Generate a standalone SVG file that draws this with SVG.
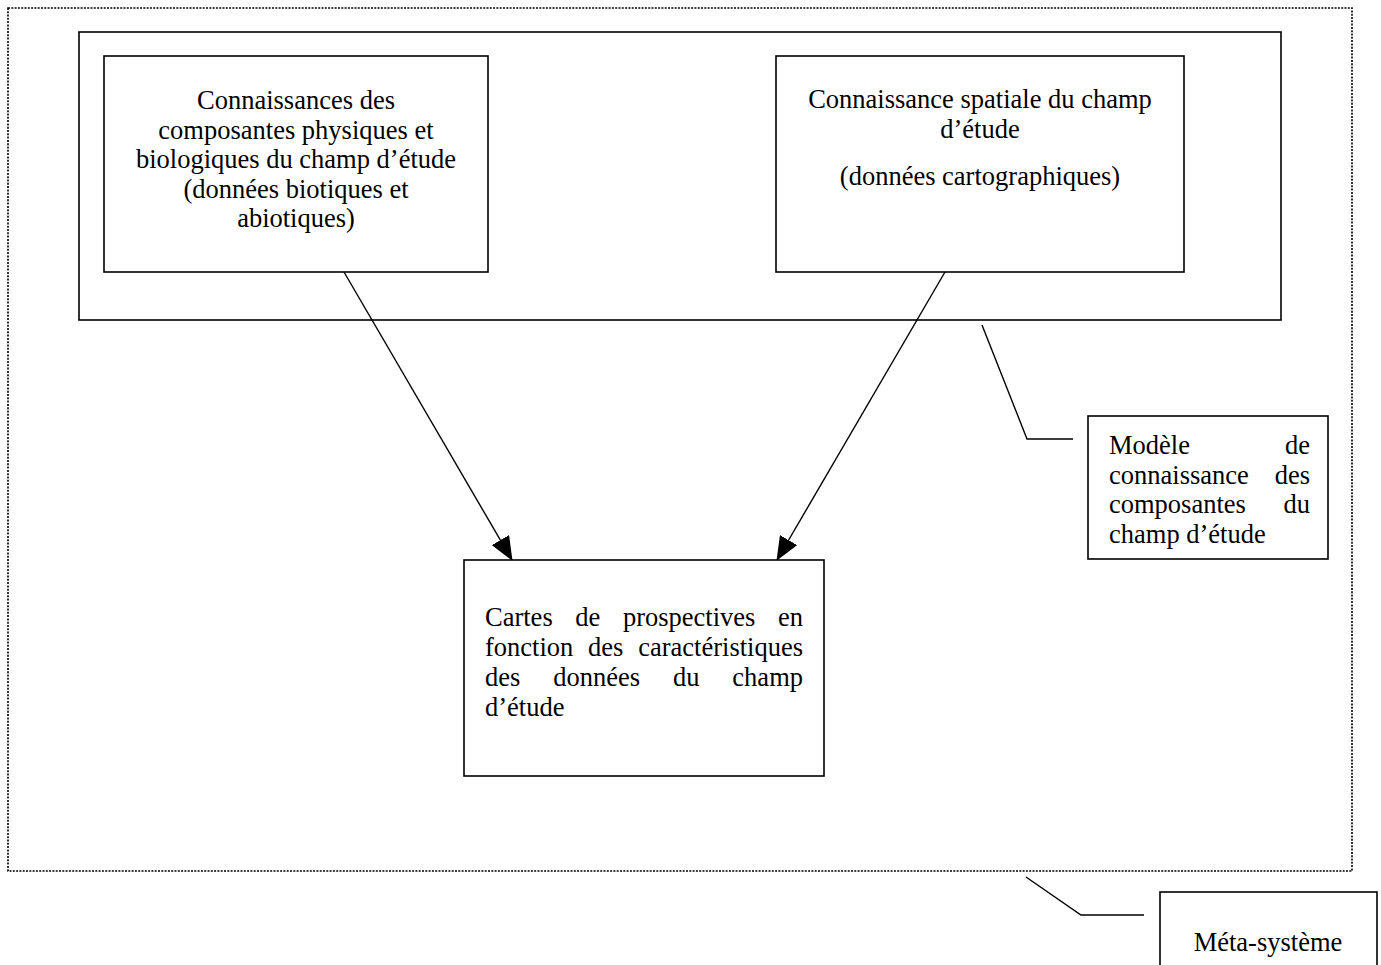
<svg xmlns="http://www.w3.org/2000/svg" width="1381" height="965" viewBox="0 0 1381 965">
<style>
.box{fill:#fff;stroke:#000;stroke-width:1.6}
.frame{fill:none;stroke:#000;stroke-width:1.6}
.dot{fill:none;stroke:#000;stroke-width:1.6;stroke-dasharray:2 1.3}
.ln{fill:none;stroke:#000;stroke-width:1.4}
text{font-family:"Liberation Serif","Times New Roman",serif;font-size:26.5px;fill:#000}
.c{text-anchor:middle}
.e{text-anchor:end}
</style>
<defs>
<marker id="arr" markerUnits="userSpaceOnUse" markerWidth="24" markerHeight="20" viewBox="0 0 24 20" refX="23" refY="10" orient="auto">
<path d="M0,0 L24,10 L0,20 Z" fill="#000"/>
</marker>
</defs>
<rect width="1381" height="965" fill="#fff"/>
<g id="meta-frame">
<rect class="dot" x="8" y="8" width="1344" height="863"/>
</g>
<g id="modele-frame">
<rect class="frame" x="79" y="32" width="1202" height="288"/>
</g>
<g id="connectors">
<line class="ln" x1="344" y1="272" x2="512" y2="560" marker-end="url(#arr)"/>
<line class="ln" x1="945" y1="272" x2="777" y2="560" marker-end="url(#arr)"/>
<polyline class="ln" points="982,325 1027,439 1073,439"/>
<polyline class="ln" points="1026,877 1081,915 1144,915"/>
</g>
<g id="node-physique">
<rect class="box" x="104" y="56" width="384" height="216"/>
<text class="c" x="296" y="109">Connaissances des</text>
<text class="c" x="296" y="138.5">composantes physiques et</text>
<text class="c" x="296" y="168">biologiques du champ d’étude</text>
<text class="c" x="296" y="197.5">(données biotiques et</text>
<text class="c" x="296" y="227">abiotiques)</text>
</g>
<g id="node-spatiale">
<rect class="box" x="776" y="56" width="408" height="216"/>
<text class="c" x="980" y="108">Connaissance spatiale du champ</text>
<text class="c" x="980" y="137.5">d’étude</text>
<text class="c" x="980" y="185">(données cartographiques)</text>
</g>
<g id="node-modele">
<rect class="box" x="1088" y="416" width="240" height="143"/>
<text x="1109" y="454">Modèle</text><text class="e" x="1310" y="454">de</text>
<text x="1109" y="483.5">connaissance</text><text class="e" x="1310" y="483.5">des</text>
<text x="1109" y="513">composantes</text><text class="e" x="1310" y="513">du</text>
<text x="1109" y="542.5">champ d’étude</text>
</g>
<g id="node-cartes">
<rect class="box" x="464" y="560" width="360" height="216"/>
<text x="485" y="626">Cartes</text><text x="575.3" y="626">de</text><text x="622.9" y="626">prospectives</text><text class="e" x="803" y="626">en</text>
<text x="485" y="656">fonction</text><text x="588.1" y="656">des</text><text class="e" x="803" y="656">caractéristiques</text>
<text x="485" y="686">des</text><text x="553.2" y="686">données</text><text x="672.9" y="686">du</text><text class="e" x="803" y="686">champ</text>
<text x="485" y="716">d’étude</text>
</g>
<g id="node-meta">
<rect class="box" x="1160" y="892" width="217" height="90"/>
<text class="c" x="1268" y="951">Méta-système</text>
</g>
</svg>
